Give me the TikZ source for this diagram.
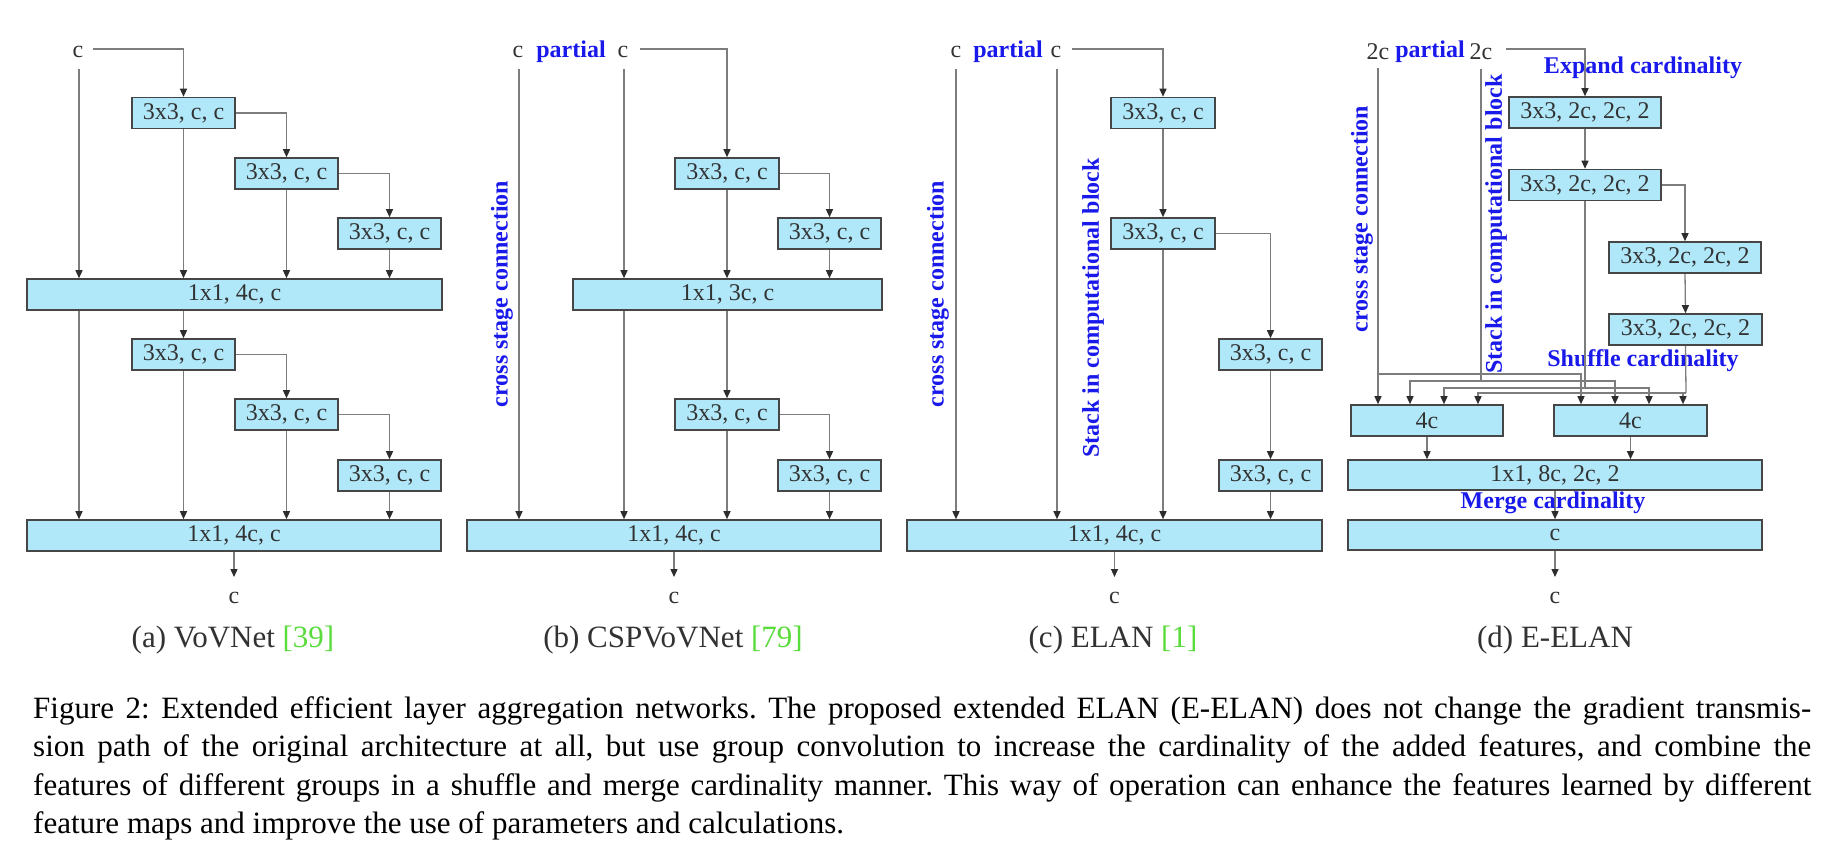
\documentclass[tikz,border=0pt]{standalone}
\usepackage{fontspec}
\setmainfont{Liberation Serif}
\usetikzlibrary{arrows.meta}
\definecolor{boxfill}{RGB}{176,232,250}
\definecolor{boxedge}{RGB}{70,70,70}
\definecolor{lngray}{RGB}{125,125,125}
\definecolor{tipgray}{RGB}{45,45,45}
\definecolor{txtgray}{RGB}{50,50,50}
\definecolor{lblue}{RGB}{25,25,235}
\definecolor{citegreen}{RGB}{90,220,60}
\frenchspacing
\begin{document}
\begin{tikzpicture}[x=1pt,y=-1pt,
  blk/.style={draw=boxedge, fill=boxfill, line width=1.6pt, minimum height=31pt, inner sep=0pt, text=txtgray, font=\fontsize{24}{28}\selectfont},
  ln/.style={draw=lngray, line width=1.3pt},
  arr/.style={ln, -{Triangle[length=8pt,width=7pt,color=tipgray]}},
  lbl/.style={inner sep=0pt, text=txtgray, font=\fontsize{24}{28}\selectfont},
  blu/.style={inner sep=0pt, text=lblue, font=\fontsize{24}{28}\selectfont\bfseries},
  sub/.style={inner sep=0pt, text=txtgray, font=\fontsize{31}{36}\selectfont},
]
\fill[white] (0,0) rectangle (1844,860);
\useasboundingbox (0,0) rectangle (1844,860);

% ---------------- (a) VoVNet ----------------
\node[lbl] (ca) at (78,52) {c};
\coordinate (ca1) at (93,49);
\coordinate (ca2) at (79,69);
\node[blk, minimum width=103pt] (a1) at (183.5,113) {3x3, c, c};
\node[blk, minimum width=103pt] (a2) at (286.5,173.5) {3x3, c, c};
\node[blk, minimum width=103pt] (a3) at (389.5,233.5) {3x3, c, c};
\node[blk, minimum width=415pt] (aM) at (234.5,294.5) {1x1, 4c, c};
\node[blk, minimum width=103pt] (a4) at (183.5,354.5) {3x3, c, c};
\node[blk, minimum width=103pt] (a5) at (286.5,414.5) {3x3, c, c};
\node[blk, minimum width=103pt] (a6) at (389.5,475.5) {3x3, c, c};
\node[blk, minimum width=414pt] (aN) at (234,535.5) {1x1, 4c, c};
\coordinate (ao) at (234,577);
\node[lbl] (ac) at (234,598) {c};
\node[sub] (acap) at (233,640) {(a) VoVNet \textcolor{citegreen}{[39]}};
\draw[arr] (ca1) -| (a1.north);
\draw[arr] (ca2) -- (ca2 |- aM.north);
\draw[arr] (a1.east) -| (a2.north);
\draw[arr] (a2.east) -| (a3.north);
\foreach \n in {a1,a2,a3} \draw[arr] (\n.south) -- (\n.south |- aM.north);
\draw[arr] (ca2 |- aM.south) -- (ca2 |- aN.north);
\draw[arr] (a4.north |- aM.south) -- (a4.north);
\draw[arr] (a4.east) -| (a5.north);
\draw[arr] (a5.east) -| (a6.north);
\foreach \n in {a4,a5,a6} \draw[arr] (\n.south) -- (\n.south |- aN.north);
\draw[arr] (aN.south) -- (ao);

% ---------------- (b) CSPVoVNet ----------------
\node[lbl] (cb1) at (518,52) {c};
\node[blu] (pb) at (571,52) {partial};
\node[lbl] (cb2) at (623,52) {c};
\coordinate (cb0) at (640,49);
\coordinate (cbl) at (519,69);
\coordinate (cbr) at (624,69);
\node[blk, minimum width=104pt] (b1) at (727,173.5) {3x3, c, c};
\node[blk, minimum width=103pt] (b2) at (829.5,233.5) {3x3, c, c};
\node[blk, minimum width=309pt] (bM) at (727.5,294.5) {1x1, 3c, c};
\node[blk, minimum width=104pt] (b3) at (727,414.5) {3x3, c, c};
\node[blk, minimum width=103pt] (b4) at (829.5,475.5) {3x3, c, c};
\node[blk, minimum width=414pt] (bN) at (674,535.5) {1x1, 4c, c};
\coordinate (bo) at (674,577);
\node[lbl] (bc) at (674,598) {c};
\node[sub] (bcap) at (673,640) {(b) CSPVoVNet \textcolor{citegreen}{[79]}};
\node[blu, rotate=90] (bcs) at (502,294) {cross stage connection};
\draw[arr] (cb0) -| (b1.north);
\draw[arr] (cbl) -- (cbl |- bN.north);
\draw[arr] (cbr) -- (cbr |- bM.north);
\draw[arr] (b1.east) -| (b2.north);
\foreach \n in {b1,b2} \draw[arr] (\n.south) -- (\n.south |- bM.north);
\draw[arr] (cbr |- bM.south) -- (cbr |- bN.north);
\draw[arr] (b3.north |- bM.south) -- (b3.north);
\draw[arr] (b3.east) -| (b4.north);
\foreach \n in {b3,b4} \draw[arr] (\n.south) -- (\n.south |- bN.north);
\draw[arr] (bN.south) -- (bo);

% ---------------- (c) ELAN ----------------
\node[lbl] (cc1) at (956,52) {c};
\node[blu] (pc) at (1008,52) {partial};
\node[lbl] (cc2) at (1056,52) {c};
\coordinate (cc0) at (1072,49);
\coordinate (ccl) at (956,69);
\coordinate (ccr) at (1057,69);
\node[blk, minimum width=104pt] (c1) at (1163,113) {3x3, c, c};
\node[blk, minimum width=104pt] (c2) at (1163,233.5) {3x3, c, c};
\node[blk, minimum width=103pt] (c3) at (1270.5,354.5) {3x3, c, c};
\node[blk, minimum width=103pt] (c4) at (1270.5,475.5) {3x3, c, c};
\node[blk, minimum width=415pt] (cN) at (1114.5,535.5) {1x1, 4c, c};
\coordinate (co) at (1114.5,577);
\node[lbl] (cc) at (1114.5,598) {c};
\node[sub] (ccap) at (1113,640) {(c) ELAN \textcolor{citegreen}{[1]}};
\node[blu, rotate=90] (ccs) at (938,294) {cross stage connection};
\node[blu, rotate=90] (csk) at (1093,308) {Stack in computational block};
\draw[arr] (cc0) -| (c1.north);
\draw[arr] (ccl) -- (ccl |- cN.north);
\draw[arr] (ccr) -- (ccr |- cN.north);
\draw[arr] (c1.south) -- (c2.north);
\draw[arr] (c2.east) -| (c3.north);
\draw[arr] (c3.south) -- (c4.north);
\draw[arr] (c2.south) -- (c2.south |- cN.north);
\draw[arr] (c4.south) -- (c4.south |- cN.north);
\draw[arr] (cN.south) -- (co);

% ---------------- (d) E-ELAN ----------------
\node[lbl] (cd1) at (1378,52) {2c};
\node[blu] (pd) at (1430,52) {partial};
\node[lbl] (cd2) at (1481,52) {2c};
\coordinate (cd0) at (1506,49);
\coordinate (cdl) at (1378,68);
\coordinate (cdr) at (1481,69);
\node[blu] (dex) at (1643,68) {Expand cardinality};
\node[blk, minimum width=152pt] (d1) at (1585,112.5) {3x3, 2c, 2c, 2};
\node[blk, minimum width=152pt] (d2) at (1585,185) {3x3, 2c, 2c, 2};
\node[blk, minimum width=152pt] (d3) at (1685,257.5) {3x3, 2c, 2c, 2};
\node[blk, minimum width=153pt] (d4) at (1685.5,329.5) {3x3, 2c, 2c, 2};
\node[blu, rotate=90] (dcs) at (1362,219) {cross stage connection};
\node[blu, rotate=90] (dsk) at (1496,224) {Stack in computational block};
\node[blu] (dsh) at (1643,361) {Shuffle cardinality};
\node[blk, minimum width=152pt] (dL) at (1427,420.5) {4c};
\node[blk, minimum width=153pt] (dR) at (1630.5,420.5) {4c};
\node[blk, minimum width=414pt, minimum height=30pt] (dM) at (1555,475) {1x1, 8c, 2c, 2};
\node[blk, minimum width=414pt, minimum height=30pt] (dN) at (1555,535) {c};
\coordinate (do) at (1555,577);
\node[lbl] (dc) at (1555,598) {c};
\node[sub] (dcap) at (1555,640) {(d) E-ELAN};
\coordinate (s1) at (1378,374);
\coordinate (s2) at (1481,381);
\coordinate (s3) at (1585,388);
\coordinate (s4) at (1686,393);
\draw[arr] (cd0) -| (d1.north);
\draw[arr] (d1.south) -- (d2.north);
\draw[arr] (d2.east) -| (d3.north);
\draw[arr] (d3.south) -- (d4.north);
\draw[ln] (cdl) -- (s1);
\draw[arr] (s1) -| ([xshift=-49pt]dL.north);
\draw[arr] (s1) -| ([xshift=-49.5pt]dR.north);
\draw[ln] (cdr) -- (s2);
\draw[arr] (s2) -| ([xshift=-17pt]dL.north);
\draw[arr] (s2) -| ([xshift=-15.5pt]dR.north);
\draw[ln] (d2.south) -- (s3);
\draw[arr] (s3) -| ([xshift=17pt]dL.north);
\draw[arr] (s3) -| ([xshift=18.5pt]dR.north);
\draw[ln] (d4.south) -- (s4);
\draw[arr] (s4) -| ([xshift=51pt]dL.north);
\draw[arr] (s4) -| ([xshift=52.5pt]dR.north);
\draw[arr] (dL.south) -- (dL.south |- dM.north);
\draw[arr] (dR.south) -- (dR.south |- dM.north);
\draw[arr] (dM.south) -- (dN.north);
\node[blu] (dmg) at (1553,503) {Merge cardinality};
\draw[arr] (dN.south) -- (do);

% ---------------- caption ----------------
\node[anchor=north west, inner sep=0pt, text width=1778pt, align=justify,
      font=\fontsize{31}{38.5}\selectfont] (cap) at (33,696)
 {Figure 2: Extended efficient layer aggregation networks. The proposed extended ELAN (E-ELAN) does not change the gradient transmis-\linebreak
 sion path of the original architecture at all, but use group convolution to increase the cardinality of the added features, and combine the\linebreak
 features of different groups in a shuffle and merge cardinality manner. This way of operation can enhance the features learned by different\linebreak
 feature maps and improve the use of parameters and calculations.};
\end{tikzpicture}
\end{document}
